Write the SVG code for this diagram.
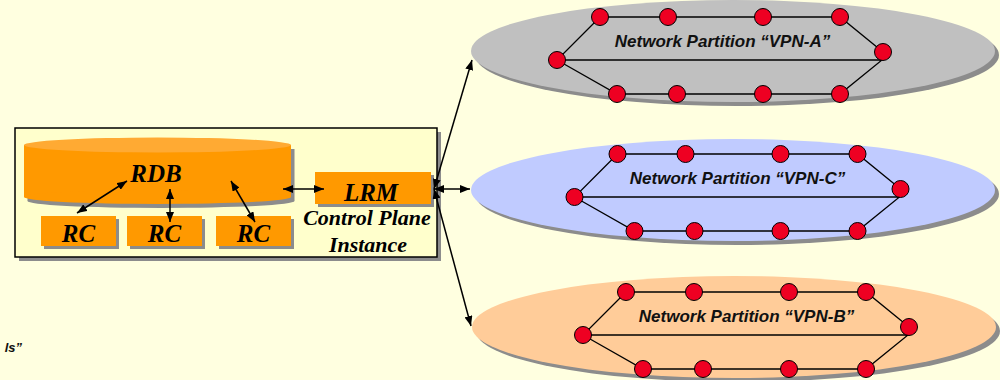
<svg xmlns="http://www.w3.org/2000/svg" xmlns:xlink="http://www.w3.org/1999/xlink" width="1000" height="380" viewBox="0 0 1000 380">
  <style>
    .bg { fill: #FFFFE0; }
    .shadow { fill: #8C8C8C; }
    .panel { fill: #FFFFCC; stroke: #000; stroke-width: 1.5; }
    .block { fill: #FF9900; }
    .cyl-top { fill: #FFAA33; }
    .label { font-family: "Liberation Serif", "Times New Roman", serif; font-weight: bold; font-style: italic; fill: #000; text-anchor: middle; }
    .big { font-size: 25px; }
    .mid { font-size: 22px; }
    .vpn-label { font-family: "Liberation Sans", Arial, sans-serif; font-weight: bold; font-style: italic; font-size: 17px; fill: #111; text-anchor: middle; }
    .link { stroke: #000; stroke-width: 1.3; fill: none; }
    .router { fill: #EE0022; stroke: #000; stroke-width: 1; }
    .arrow { stroke: #000; stroke-width: 1.5; fill: none; marker-start: url(#head); marker-end: url(#head); }
  </style>
  <defs>
    <marker id="head" markerUnits="userSpaceOnUse" markerWidth="10" markerHeight="8" refX="10" refY="4" orient="auto-start-reverse">
      <path d="M0,0 L10,4 L0,8 z" fill="#000"/>
    </marker>
    <!-- ring of ten routers, drawn at the VPN-A position -->
    <g id="ring">
      <polyline class="link" points="600,17 840,17 883,52"/>
      <polyline class="link" points="600,17 557,60 882,60 840,94 617,94 557,60"/>
      <circle class="router" cx="600" cy="17" r="8.5"/>
      <circle class="router" cx="668" cy="17" r="8.5"/>
      <circle class="router" cx="763" cy="17" r="8.5"/>
      <circle class="router" cx="840" cy="17" r="8.5"/>
      <circle class="router" cx="557" cy="60" r="8.5"/>
      <circle class="router" cx="883" cy="52" r="8.5"/>
      <circle class="router" cx="617" cy="94" r="8.5"/>
      <circle class="router" cx="677" cy="94" r="8.5"/>
      <circle class="router" cx="763" cy="94" r="8.5"/>
      <circle class="router" cx="840" cy="94" r="8.5"/>
    </g>
  </defs>

  <rect class="bg" x="0" y="0" width="1000" height="380"/>

  <!-- control plane instance panel -->
  <g id="control-plane">
    <rect class="shadow" x="19" y="132" width="422" height="129"/>
    <rect class="panel" x="15" y="128" width="422" height="129"/>
    <text class="label mid" x="367" y="225">Control Plane</text>
    <text class="label mid" x="368" y="252">Instance</text>
  </g>

  <g id="rdb">
    <ellipse class="shadow" cx="161" cy="201" rx="133.5" ry="7"/>
    <rect class="shadow" x="27.5" y="149" width="267" height="52"/>
    <rect class="block" x="24" y="145" width="267" height="52"/>
    <ellipse class="block" cx="157.5" cy="197" rx="133.5" ry="7"/>
    <ellipse class="cyl-top" cx="157.5" cy="145" rx="133.5" ry="7.5"/>
    <text class="label big" x="156" y="182">RDB</text>
  </g>

  <g id="rc-1">
    <rect class="shadow" x="44" y="219" width="75" height="30"/>
    <rect class="block" x="41" y="216" width="75" height="30"/>
    <text class="label big" x="78.5" y="242">RC</text>
  </g>
  <g id="rc-2">
    <rect class="shadow" x="130" y="219" width="75" height="30"/>
    <rect class="block" x="127" y="216" width="75" height="30"/>
    <text class="label big" x="164.5" y="242">RC</text>
  </g>
  <g id="rc-3">
    <rect class="shadow" x="219" y="219" width="75" height="30"/>
    <rect class="block" x="216" y="216" width="75" height="30"/>
    <text class="label big" x="253.5" y="242">RC</text>
  </g>

  <g id="lrm">
    <rect class="shadow" x="318" y="175" width="116" height="32"/>
    <rect class="block" x="315" y="172" width="116" height="32"/>
    <text class="label big" x="371" y="201">LRM</text>
  </g>

  <!-- network partitions -->
  <g id="vpn-a">
    <ellipse class="shadow" cx="737" cy="55" rx="262" ry="51"/>
    <ellipse cx="733" cy="51" rx="262" ry="51" fill="#C0C0C0"/>
    <use xlink:href="#ring"/>
    <text class="vpn-label" x="722.5" y="47">Network Partition “VPN-A”</text>
  </g>

  <g id="vpn-c">
    <ellipse class="shadow" cx="737" cy="194" rx="262" ry="51"/>
    <ellipse cx="733" cy="190" rx="262" ry="51" fill="#C0CBFF"/>
    <use xlink:href="#ring" x="17.5" y="137"/>
    <text class="vpn-label" x="737.5" y="184">Network Partition “VPN-C”</text>
  </g>

  <g id="vpn-b">
    <ellipse class="shadow" cx="738" cy="331" rx="262" ry="51"/>
    <ellipse cx="734" cy="327" rx="262" ry="51" fill="#FFCC99"/>
    <use xlink:href="#ring" x="26" y="275"/>
    <text class="vpn-label" x="746.5" y="322">Network Partition “VPN-B”</text>
  </g>

  <!-- connectors -->
  <g id="connectors">
    <line class="arrow" x1="127" y1="181" x2="77" y2="213"/>
    <line class="arrow" x1="170" y1="189" x2="170" y2="222"/>
    <line class="arrow" x1="231" y1="181" x2="255" y2="222"/>
    <line class="arrow" x1="283" y1="189" x2="324" y2="189"/>
    <line class="arrow" x1="434" y1="189" x2="472" y2="60"/>
    <line class="arrow" x1="434" y1="189" x2="470" y2="189"/>
    <line class="arrow" x1="434" y1="189" x2="471" y2="326"/>
  </g>

  <text class="vpn-label" x="22" y="352" style="font-size:13px;text-anchor:end">ls”</text>
</svg>
